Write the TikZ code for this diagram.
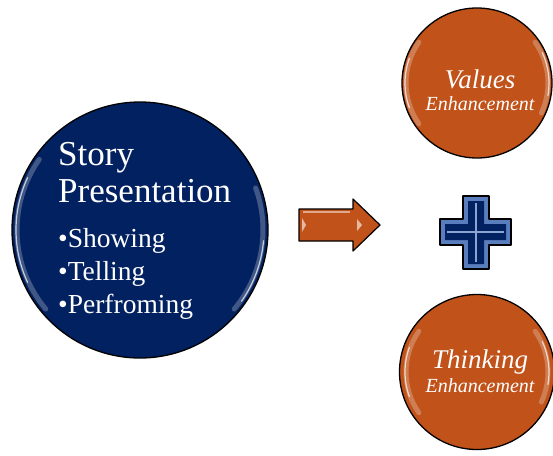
\documentclass[tikz,border=0pt]{standalone}
\usepackage{fontspec}
\setmainfont{Liberation Serif}
\usepackage{xcolor}
\definecolor{navy}{RGB}{2,33,96}
\definecolor{navylt}{RGB}{90,125,190}
\definecolor{rust}{RGB}{192,82,26}

\tikzset{
  bubble/.style={circle, draw=black, line width=1.3pt, inner sep=0pt},
  gloss/.style={white, line width=5pt, opacity=0.25, line cap=round},
  glint/.style={white, line width=1.2pt, opacity=0.7, line cap=round},
  wtext/.style={white, inner sep=0pt}
}

\begin{document}
\begin{tikzpicture}[x=1pt,y=-1pt]
\useasboundingbox (0,0) rectangle (553,455);

% big blue disc
\node[bubble, fill=navy, minimum size=256pt] (story) at (140,230) {};
\draw[gloss] (140,230) ++(140:123) arc (140:215:123);
\draw[glint] (140,230) ++(155:124) arc (155:205:124);
\draw[gloss] (140,230) ++(-20:123) arc (-20:40:123);
\draw[glint] (140,230) ++(5:124) arc (5:35:124);

% the two orange discs
\node[bubble, fill=rust, minimum size=150pt] (values) at (477,83) {};
\node[bubble, fill=rust, minimum size=155pt] (thinking) at (477,372) {};
\foreach \c in {values, thinking} {
  \draw[gloss] (\c.center) ++(145:71) arc (145:215:71);
  \draw[glint] (\c.center) ++(160:72) arc (160:200:72);
  \draw[gloss] (\c.center) ++(-35:71) arc (-35:25:71);
  \draw[glint] (\c.center) ++(-25:72) arc (-25:10:72);
}

% arrow
\draw[fill=rust, line width=1.2pt, line join=round]
  (299,209) -- (353,209) -- (353,199) -- (380,225) -- (353,251)
  -- (353,241) -- (299,241) -- cycle;
\draw[white, opacity=0.5, line width=2pt] (303,212) -- (350,212);
\fill[white, opacity=0.6] (302,218) -- (306,225) -- (302,232) -- cycle;
\fill[white, opacity=0.6] (357,231) -- (362,225) -- (357,219) -- cycle;

% plus sign
\draw[fill=navylt, line width=1.2pt, line join=round]
  (463,196) -- (489,196) -- (489,219) -- (511,219) -- (511,245)
  -- (489,245) -- (489,269) -- (463,269) -- (463,245) -- (440,245)
  -- (440,219) -- (463,219) -- cycle;
\fill[navy]
  (468,201) -- (484,201) -- (484,224) -- (506,224) -- (506,240)
  -- (484,240) -- (484,264) -- (468,264) -- (468,240) -- (445,240)
  -- (445,224) -- (468,224) -- cycle;
\draw[navylt!70!white, line width=1.5pt] (476,203) -- (476,262);
\draw[navylt!70!white, line width=1.5pt] (447,232) -- (504,232);

% texts
{\fontsize{35}{38}\selectfont
\node[wtext, anchor=base west] (t1) at (58,165) {Story};
\node[wtext, anchor=base west] (t2) at (58,202) {Presentation};
}
{\fontsize{27.5}{30}\selectfont
\node[wtext, anchor=base west] (b1) at (58,247) {•Showing};
\node[wtext, anchor=base west] (b2) at (58,280) {•Telling};
\node[wtext, anchor=base west] (b3) at (58,313) {•Perfroming};
}
\node[wtext, anchor=base, font=\fontsize{27}{30}\selectfont\itshape] (v1) at (480,88) {Values};
\node[wtext, anchor=base, font=\fontsize{20}{22}\selectfont\itshape] (v2) at (480,110) {Enhancement};
\node[wtext, anchor=base, font=\fontsize{27}{30}\selectfont\itshape] (k1) at (480,368) {Thinking};
\node[wtext, anchor=base, font=\fontsize{20}{22}\selectfont\itshape] (k2) at (480,392) {Enhancement};

\end{tikzpicture}
\end{document}
